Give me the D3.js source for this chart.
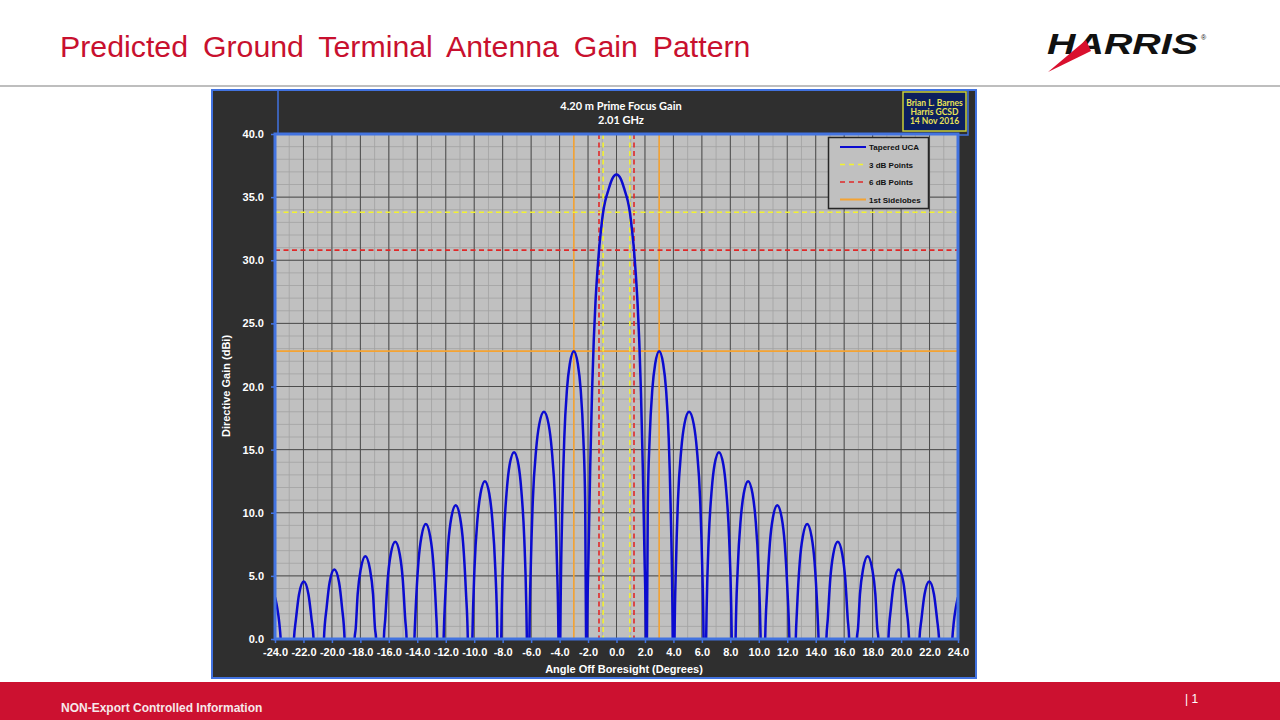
<!DOCTYPE html>
<html>
<head>
<meta charset="utf-8">
<script src="https://cdn.jsdelivr.net/npm/d3@7"></script>
<style>
    body { margin: 0; background: #ffffff; }
    svg { display: block; font-family: "Liberation Sans", Arial, sans-serif; }
</style>
</head>
<body>
<svg id="slide" width="1280" height="720"></svg>
<script>
// data
var slideTitle = "Predicted Ground Terminal Antenna Gain Pattern";
var chartTitle = ["4.20 m Prime Focus Gain", "2.01 GHz"];
var stampLines = ["Brian L. Barnes", "Harris GCSD", "14 Nov 2016"];
var xTickValues = [-24, -22, -20, -18, -16, -14, -12, -10, -8, -6, -4, -2, 0, 2, 4, 6, 8, 10, 12, 14, 16, 18, 20, 22, 24];
var yTickValues = [0, 5, 10, 15, 20, 25, 30, 35, 40];

// [angle (deg), directive gain (dBi)] - values under 0 are clipped by the plot
var taperedUca = [
    [-24.0, 3.3], [-23.85, 2.5], [-23.7, 1.3], [-23.6, 0],
    [-23.13, -20], [-22.67, 0], [-22.53, 1.55], [-22.31, 3.55], [-21.98, 4.55], [-21.65, 3.55], [-21.43, 1.55], [-21.29, 0],
    [-20.93, -20], [-20.56, 0], [-20.37, 2.5], [-20.16, 4.5], [-19.83, 5.5], [-19.5, 4.5], [-19.29, 2.5], [-19.11, 0],
    [-18.76, -20], [-18.41, 0], [-18.33, 0.8], [-18.19, 3.55], [-17.97, 5.55], [-17.65, 6.55], [-17.33, 5.55], [-17.11, 3.55], [-16.97, 0.8], [-16.89, 0],
    [-16.62, -20], [-16.35, 0], [-16.25, 1.6], [-16.08, 4.7], [-15.87, 6.7], [-15.55, 7.7], [-15.23, 6.7], [-15.02, 4.7], [-14.85, 1.6], [-14.75, 0],
    [-14.47, -20], [-14.2, 0], [-14.12, 2.2], [-13.92, 6.1], [-13.71, 8.1], [-13.4, 9.1], [-13.09, 8.1], [-12.88, 6.1], [-12.68, 2.2], [-12.6, 0],
    [-12.4, -20], [-12.15, 0], [-12.02, 3.7], [-11.82, 7.6], [-11.61, 9.6], [-11.3, 10.6], [-10.99, 9.6], [-10.78, 7.6], [-10.58, 3.7], [-10.45, 0],
    [-10.34, -20], [-10.13, 0], [-9.98, 5.6], [-9.77, 9.5], [-9.56, 11.5], [-9.25, 12.5], [-8.94, 11.5], [-8.73, 9.5], [-8.52, 5.6], [-8.37, 0],
    [-8.23, -20], [-8.1, 0], [-8.06, 2.7], [-7.92, 7.9], [-7.71, 11.8], [-7.51, 13.8], [-7.2, 14.8], [-6.89, 13.8], [-6.69, 11.8], [-6.48, 7.9], [-6.34, 2.7], [-6.3, 0],
    [-6.2, -20], [-6.12, 0], [-6.02, 5.9], [-5.88, 11.0], [-5.65, 15.0], [-5.43, 17.0], [-5.1, 18.0], [-4.77, 17.0], [-4.55, 15.0], [-4.32, 11.0], [-4.18, 5.9], [-4.08, 0],
    [-4.05, -20], [-3.95, 0], [-3.8, 10.7], [-3.67, 15.9], [-3.48, 19.8], [-3.28, 21.8], [-3.0, 22.8], [-2.72, 21.8], [-2.52, 19.8], [-2.33, 15.9], [-2.2, 10.7], [-2.14, 0],
    [-2.1, -20], [-2.06, 0.5], [-1.97, 6.5], [-1.85, 13.5], [-1.72, 19.5], [-1.6, 23.6], [-1.48, 26.6], [-1.35, 29.0], [-1.23, 30.8], [-1.08, 32.5], [-0.94, 33.8], [-0.8, 34.65], [-0.6, 35.45], [-0.3, 36.45],
    [0.0, 36.8],
    [0.3, 36.45], [0.6, 35.45], [0.8, 34.65], [0.94, 33.8], [1.08, 32.5], [1.23, 30.8], [1.35, 29.0], [1.48, 26.6], [1.6, 23.6], [1.72, 19.5], [1.85, 13.5], [1.97, 6.5], [2.06, 0.5], [2.1, -20],
    [2.14, 0], [2.2, 10.7], [2.33, 15.9], [2.52, 19.8], [2.72, 21.8], [3.0, 22.8], [3.28, 21.8], [3.48, 19.8], [3.67, 15.9], [3.8, 10.7], [3.95, 0], [4.05, -20],
    [4.08, 0], [4.18, 5.9], [4.32, 11.0], [4.55, 15.0], [4.77, 17.0], [5.1, 18.0], [5.43, 17.0], [5.65, 15.0], [5.88, 11.0], [6.02, 5.9], [6.12, 0], [6.2, -20],
    [6.3, 0], [6.34, 2.7], [6.48, 7.9], [6.69, 11.8], [6.89, 13.8], [7.2, 14.8], [7.51, 13.8], [7.71, 11.8], [7.92, 7.9], [8.06, 2.7], [8.1, 0], [8.23, -20],
    [8.37, 0], [8.52, 5.6], [8.73, 9.5], [8.94, 11.5], [9.25, 12.5], [9.56, 11.5], [9.77, 9.5], [9.98, 5.6], [10.13, 0], [10.34, -20],
    [10.45, 0], [10.58, 3.7], [10.78, 7.6], [10.99, 9.6], [11.3, 10.6], [11.61, 9.6], [11.82, 7.6], [12.02, 3.7], [12.15, 0], [12.4, -20],
    [12.6, 0], [12.68, 2.2], [12.88, 6.1], [13.09, 8.1], [13.4, 9.1], [13.71, 8.1], [13.92, 6.1], [14.12, 2.2], [14.2, 0], [14.47, -20],
    [14.75, 0], [14.85, 1.6], [15.02, 4.7], [15.23, 6.7], [15.55, 7.7], [15.87, 6.7], [16.08, 4.7], [16.25, 1.6], [16.35, 0], [16.62, -20],
    [16.89, 0], [16.97, 0.8], [17.11, 3.55], [17.33, 5.55], [17.65, 6.55], [17.97, 5.55], [18.19, 3.55], [18.33, 0.8], [18.41, 0], [18.76, -20],
    [19.11, 0], [19.29, 2.5], [19.5, 4.5], [19.83, 5.5], [20.16, 4.5], [20.37, 2.5], [20.56, 0], [20.93, -20],
    [21.29, 0], [21.43, 1.55], [21.65, 3.55], [21.98, 4.55], [22.31, 3.55], [22.53, 1.55], [22.67, 0], [23.13, -20],
    [23.6, 0], [23.7, 1.3], [23.85, 2.5], [24.0, 3.3]
];

// marker lines
var threeDbAngles = [-0.94, 0.94];
var threeDbLevel = 33.8;
var sixDbAngles = [-1.23, 1.23];
var sixDbLevel = 30.8;
var sidelobeAngles = [-3.0, 3.0];
var sidelobeLevel = 22.8;

var legendNames = ["Tapered UCA", "3 dB Points", "6 dB Points", "1st Sidelobes"];

// colours
var blueCurve = "#0b0bd0";
var yellowDash = "#f2f230";
var redDash = "#e02828";
var orangeLine = "#f5a332";
var frameBlue = "#4273e0";

var svg = d3.select("#slide");

// STEP 1: slide header and footer
svg.append("text")
    .attr("x", 60)
    .attr("y", 57)
    .attr("fill", "#c8102e")
    .attr("font-size", 30.3)
    .attr("word-spacing", 6.5)
    .text(slideTitle);

svg.append("line")
    .attr("x1", 0).attr("x2", 1280)
    .attr("y1", 86).attr("y2", 86)
    .attr("stroke", "#a8a8a8")
    .attr("stroke-width", 1.5);

var logo = svg.append("g");
logo.append("text")
    .attr("x", 1047)
    .attr("y", 54)
    .attr("font-size", 30)
    .attr("font-weight", "bold")
    .attr("font-style", "italic")
    .attr("textLength", 151)
    .attr("lengthAdjust", "spacingAndGlyphs")
    .attr("fill", "#111111")
    .text("HARRIS");
logo.append("polygon")
    .attr("points", "1048,72 1086,40 1091,51")
    .attr("fill", "#d9102e");
logo.append("text")
    .attr("x", 1201).attr("y", 40)
    .attr("font-size", 7)
    .attr("fill", "#111111")
    .text("®");

svg.append("rect")
    .attr("x", 0).attr("y", 682)
    .attr("width", 1280).attr("height", 38)
    .attr("fill", "#cc1130");

svg.append("text")
    .attr("x", 61).attr("y", 712)
    .attr("font-size", 12)
    .attr("font-weight", "bold")
    .attr("fill", "#f6e8ea")
    .text("NON-Export Controlled Information");

svg.append("text")
    .attr("x", 1185).attr("y", 703)
    .attr("font-size", 12)
    .attr("fill", "#ffffff")
    .text("| 1");

// STEP 2: chart box
svg.append("rect")
    .attr("x", 212).attr("y", 90)
    .attr("width", 764).attr("height", 588)
    .attr("fill", "#2f2f2f")
    .attr("stroke", frameBlue)
    .attr("stroke-width", 2);

svg.append("rect")
    .attr("x", 278).attr("y", 90)
    .attr("width", 690).attr("height", 45)
    .attr("fill", "none")
    .attr("stroke", frameBlue)
    .attr("stroke-width", 1.5);

svg.append("g")
    .selectAll("text")
    .data(chartTitle)
    .enter()
    .append("text")
    .attr("x", 621)
    .attr("y", (d, i) => 110 + i * 14)
    .attr("text-anchor", "middle")
    .attr("font-family", "Lato, 'Open Sans', sans-serif")
    .attr("font-weight", "bold")
    .attr("font-size", 11)
    .attr("fill", "#ffffff")
    .text(d => d);

svg.append("rect")
    .attr("x", 903).attr("y", 92)
    .attr("width", 63).attr("height", 39)
    .attr("fill", "#0c1f5e")
    .attr("stroke", "#c9cf3a")
    .attr("stroke-width", 1.5);

svg.append("g")
    .selectAll("text")
    .data(stampLines)
    .enter()
    .append("text")
    .attr("x", 934.5)
    .attr("y", (d, i) => 106 + i * 9)
    .attr("text-anchor", "middle")
    .attr("font-family", "Lato, 'Open Sans', sans-serif")
    .attr("font-weight", "bold")
    .attr("font-size", 8.5)
    .attr("fill", "#e9e255")
    .text(d => d);

// STEP 3: scales
var plot = { left: 275, right: 958, top: 134, bottom: 639 };

var xScale = d3.scaleLinear()
    .domain([-24, 24])
    .range([plot.left, plot.right]);

var yScale = d3.scaleLinear()
    .domain([0, 40])
    .range([plot.bottom, plot.top]);

svg.append("defs").append("clipPath")
    .attr("id", "plotClip")
    .append("rect")
    .attr("x", plot.left).attr("y", plot.top)
    .attr("width", plot.right - plot.left)
    .attr("height", plot.bottom - plot.top);

svg.append("rect")
    .attr("x", plot.left).attr("y", plot.top)
    .attr("width", plot.right - plot.left)
    .attr("height", plot.bottom - plot.top)
    .attr("fill", "#c0c0c0");

// STEP 4: gridlines (minor every 1 deg / 1 dB, major on the ticks)
var grid = svg.append("g");

grid.selectAll(".vminor")
    .data(xScale.ticks(48))
    .enter()
    .append("line")
    .attr("x1", d => xScale(d)).attr("x2", d => xScale(d))
    .attr("y1", plot.top).attr("y2", plot.bottom)
    .attr("stroke", "#a2a2a2")
    .attr("stroke-width", 0.8);

grid.selectAll(".hminor")
    .data(yScale.ticks(40))
    .enter()
    .append("line")
    .attr("x1", plot.left).attr("x2", plot.right)
    .attr("y1", d => yScale(d)).attr("y2", d => yScale(d))
    .attr("stroke", "#a2a2a2")
    .attr("stroke-width", 0.8);

grid.selectAll(".vmajor")
    .data(xTickValues)
    .enter()
    .append("line")
    .attr("x1", d => xScale(d)).attr("x2", d => xScale(d))
    .attr("y1", plot.top).attr("y2", plot.bottom)
    .attr("stroke", "#4c4c4c")
    .attr("stroke-width", 1);

grid.selectAll(".hmajor")
    .data(yTickValues)
    .enter()
    .append("line")
    .attr("x1", plot.left).attr("x2", plot.right)
    .attr("y1", d => yScale(d)).attr("y2", d => yScale(d))
    .attr("stroke", "#4c4c4c")
    .attr("stroke-width", 1);

// STEP 5: 3 dB, 6 dB and sidelobe markers
var markers = svg.append("g").attr("clip-path", "url(#plotClip)");

function vLines(angles, colour, dash) {
    markers.selectAll(null)
        .data(angles)
        .enter()
        .append("line")
        .attr("x1", d => xScale(d)).attr("x2", d => xScale(d))
        .attr("y1", plot.top).attr("y2", plot.bottom)
        .attr("stroke", colour)
        .attr("stroke-width", 1.6)
        .attr("stroke-dasharray", dash);
}

function hLine(level, colour, dash) {
    markers.append("line")
        .attr("x1", plot.left).attr("x2", plot.right)
        .attr("y1", yScale(level)).attr("y2", yScale(level))
        .attr("stroke", colour)
        .attr("stroke-width", 1.6)
        .attr("stroke-dasharray", dash);
}

vLines(sidelobeAngles, orangeLine, null);
hLine(sidelobeLevel, orangeLine, null);
vLines(sixDbAngles, redDash, "5,3.5");
hLine(sixDbLevel, redDash, "5,3.5");
vLines(threeDbAngles, yellowDash, "5,3.5");
hLine(threeDbLevel, yellowDash, "5,3.5");

// STEP 6: the gain pattern
var patternLine = d3.line()
    .x(d => xScale(d[0]))
    .y(d => yScale(d[1]))
    .curve(d3.curveMonotoneX);

svg.append("path")
    .datum(taperedUca)
    .attr("clip-path", "url(#plotClip)")
    .attr("d", patternLine)
    .attr("fill", "none")
    .attr("stroke", blueCurve)
    .attr("stroke-width", 2.5)
    .attr("stroke-linejoin", "round");

// STEP 7: legend
var legend = svg.append("g");
legend.append("rect")
    .attr("x", 828.5).attr("y", 137.5)
    .attr("width", 100).attr("height", 71)
    .attr("fill", "#c0c0c0")
    .attr("stroke", "#262626")
    .attr("stroke-width", 1.5);

var legendStyles = [
    { colour: blueCurve, dash: null, width: 2 },
    { colour: yellowDash, dash: "5,4", width: 1.6 },
    { colour: redDash, dash: "5,4", width: 1.6 },
    { colour: orangeLine, dash: null, width: 2 }
];

var legendRows = legend.selectAll(".row")
    .data(legendNames)
    .enter()
    .append("g")
    .attr("transform", (d, i) => `translate(0, ${147 + i * 17.5})`);

legendRows.append("line")
    .attr("x1", 840).attr("x2", 866)
    .attr("y1", 0).attr("y2", 0)
    .attr("stroke", (d, i) => legendStyles[i].colour)
    .attr("stroke-width", (d, i) => legendStyles[i].width)
    .attr("stroke-dasharray", (d, i) => legendStyles[i].dash);

legendRows.append("text")
    .attr("x", 869)
    .attr("y", 3)
    .attr("font-size", 8)
    .attr("font-weight", "bold")
    .attr("fill", "#111111")
    .text(d => d);

// STEP 8: plot frame and axes
svg.append("rect")
    .attr("x", plot.left).attr("y", plot.top)
    .attr("width", plot.right - plot.left)
    .attr("height", plot.bottom - plot.top)
    .attr("fill", "none")
    .attr("stroke", frameBlue)
    .attr("stroke-width", 3);

var bottomAxis = d3.axisBottom(xScale)
    .tickValues(xTickValues)
    .tickFormat(d => d.toFixed(1))
    .tickSize(4)
    .tickPadding(5.5);

var leftAxis = d3.axisLeft(yScale)
    .tickValues(yTickValues)
    .tickFormat(d => d.toFixed(1))
    .tickSize(4)
    .tickPadding(7);

var xAxisGroup = svg.append("g")
    .attr("transform", `translate(0, ${plot.bottom})`)
    .call(bottomAxis);

var yAxisGroup = svg.append("g")
    .attr("transform", `translate(${plot.left}, 0)`)
    .call(leftAxis);

[xAxisGroup, yAxisGroup].forEach(function(g) {
    g.select(".domain").remove();
    g.selectAll(".tick line").attr("stroke", frameBlue).attr("stroke-width", 1.5);
    g.selectAll(".tick text")
        .attr("fill", "#ffffff")
        .attr("font-size", 11)
        .attr("font-weight", "bold")
        .attr("font-family", "'Liberation Sans', Arial, sans-serif");
});

svg.append("text")
    .attr("x", 624)
    .attr("y", 673)
    .attr("text-anchor", "middle")
    .attr("font-size", 11)
    .attr("font-weight", "bold")
    .attr("fill", "#ffffff")
    .text("Angle Off Boresight (Degrees)");

svg.append("text")
    .attr("transform", "translate(230, 386) rotate(-90)")
    .attr("text-anchor", "middle")
    .attr("font-size", 11)
    .attr("font-weight", "bold")
    .attr("fill", "#ffffff")
    .text("Directive Gain (dBi)");
</script>
</body>
</html>
